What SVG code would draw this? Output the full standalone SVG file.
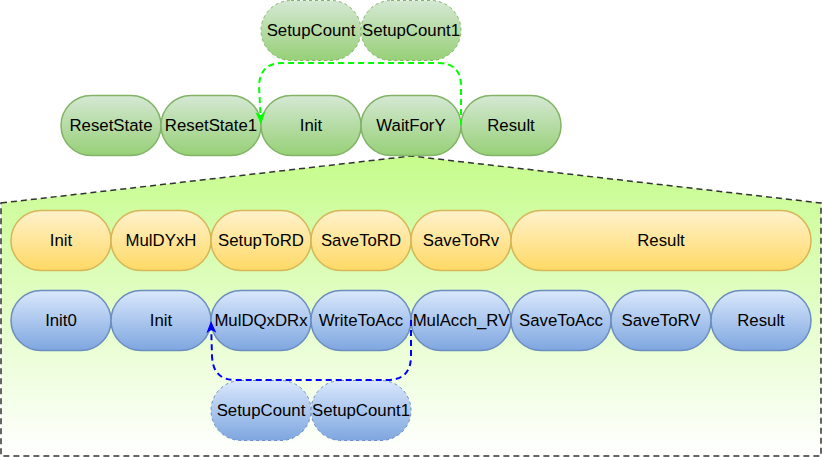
<svg xmlns="http://www.w3.org/2000/svg" width="822" height="457" viewBox="0 0 822 457">
<defs>
<linearGradient id="gBg" x1="0" y1="0" x2="0" y2="1"><stop offset="0" stop-color="#c6fc8c"/><stop offset="1" stop-color="#ffffff"/></linearGradient>
<linearGradient id="gGreen" x1="0" y1="0" x2="0" y2="1"><stop offset="0" stop-color="#d5e8d4"/><stop offset="1" stop-color="#97d077"/></linearGradient>
<linearGradient id="gOrange" x1="0" y1="0" x2="0" y2="1"><stop offset="0" stop-color="#fff2cc"/><stop offset="1" stop-color="#ffd966"/></linearGradient>
<linearGradient id="gBlue" x1="0" y1="0" x2="0" y2="1"><stop offset="0" stop-color="#dae8fc"/><stop offset="1" stop-color="#7ea6e0"/></linearGradient>
<marker id="arrG" viewBox="0 0 12 10" refX="12" refY="5" markerWidth="12" markerHeight="10" markerUnits="userSpaceOnUse" orient="auto" overflow="visible"><path d="M0,0 L12,5 L0,10 L3,5 Z" fill="#00ff00"/></marker>
<marker id="arrB" viewBox="0 0 12 10" refX="12" refY="5" markerWidth="12" markerHeight="10" markerUnits="userSpaceOnUse" orient="auto" overflow="visible"><path d="M0,0 L12,5 L0,10 L3,5 Z" fill="#0000ff"/></marker>
<style>
text{font-family:"Liberation Sans",Arial,sans-serif;font-size:16.8px;fill:#000;text-anchor:middle}
.g{fill:url(#gGreen);stroke:#82b366;stroke-width:1.5}
.o{fill:url(#gOrange);stroke:#d6b656;stroke-width:1.5}
.b{fill:url(#gBlue);stroke:#6c8ebf;stroke-width:1.5}
.d{stroke-dasharray:3 3;stroke-width:1}
.edge{fill:none;stroke-width:2;stroke-dasharray:6 4}
</style>
</defs>
<g id="container"><polygon points="1,203 411,156 821,203 821,456 1,456" fill="url(#gBg)" stroke="#333333" stroke-width="1.5" stroke-dasharray="6 4"/></g>

<g id="top-SetupCount"><rect class="g d" x="261" y="0.5" width="100" height="60" rx="30"/><text x="311" y="36">SetupCount</text></g>
<g id="top-SetupCount1"><rect class="g d" x="361" y="0.5" width="100" height="60" rx="30"/><text x="411" y="36">SetupCount1</text></g>

<g id="g-ResetState"><rect class="g" x="61" y="95.5" width="100" height="60" rx="30"/><text x="111" y="131">ResetState</text></g>
<g id="g-ResetState1"><rect class="g" x="161" y="95.5" width="100" height="60" rx="30"/><text x="211" y="131">ResetState1</text></g>
<g id="g-Init"><rect class="g" x="261" y="95.5" width="100" height="60" rx="30"/><text x="311" y="131">Init</text></g>
<g id="g-WaitForY"><rect class="g" x="361" y="95.5" width="100" height="60" rx="30"/><text x="411" y="131">WaitForY</text></g>
<g id="g-Result"><rect class="g" x="461" y="95.5" width="100" height="60" rx="30"/><text x="511" y="131">Result</text></g>

<g id="o-Init"><rect class="o" x="11" y="210.5" width="100" height="60" rx="30"/><text x="61" y="246">Init</text></g>
<g id="o-MulDYxH"><rect class="o" x="111" y="210.5" width="100" height="60" rx="30"/><text x="161" y="246">MulDYxH</text></g>
<g id="o-SetupToRD"><rect class="o" x="211" y="210.5" width="100" height="60" rx="30"/><text x="261" y="246">SetupToRD</text></g>
<g id="o-SaveToRD"><rect class="o" x="311" y="210.5" width="100" height="60" rx="30"/><text x="361" y="246">SaveToRD</text></g>
<g id="o-SaveToRv"><rect class="o" x="411" y="210.5" width="100" height="60" rx="30"/><text x="461" y="246">SaveToRv</text></g>
<g id="o-Result"><rect class="o" x="511" y="210.5" width="300" height="60" rx="30"/><text x="661" y="246">Result</text></g>

<g id="b-Init0"><rect class="b" x="11" y="290.5" width="100" height="60" rx="30"/><text x="61" y="326">Init0</text></g>
<g id="b-Init"><rect class="b" x="111" y="290.5" width="100" height="60" rx="30"/><text x="161" y="326">Init</text></g>
<g id="b-MulDQxDRx"><rect class="b" x="211" y="290.5" width="100" height="60" rx="30"/><text x="261" y="326">MulDQxDRx</text></g>
<g id="b-WriteToAcc"><rect class="b" x="311" y="290.5" width="100" height="60" rx="30"/><text x="361" y="326">WriteToAcc</text></g>
<g id="b-MulAcch_RV"><rect class="b" x="411" y="290.5" width="100" height="60" rx="30"/><text x="461" y="326">MulAcch_RV</text></g>
<g id="b-SaveToAcc"><rect class="b" x="511" y="290.5" width="100" height="60" rx="30"/><text x="561" y="326">SaveToAcc</text></g>
<g id="b-SaveToRV"><rect class="b" x="611" y="290.5" width="100" height="60" rx="30"/><text x="661" y="326">SaveToRV</text></g>
<g id="b-Result"><rect class="b" x="711" y="290.5" width="100" height="60" rx="30"/><text x="761" y="326">Result</text></g>

<g id="b-SetupCount"><rect class="b d" x="211" y="380.5" width="100" height="60" rx="30"/><text x="261" y="416">SetupCount</text></g>
<g id="b-SetupCount1"><rect class="b d" x="311" y="380.5" width="100" height="60" rx="30"/><text x="361" y="416">SetupCount1</text></g>

<g id="connectors">
<path class="edge" stroke="#00ff00" d="M461,125 L461,86 Q461,63 438,63 L282,63 Q260,63 259,86 L261,124" marker-end="url(#arrG)"/>
<path class="edge" stroke="#0000ff" d="M411,320 L411,356 Q411,380 387,380 L235,380 Q213,380 212,356 L211,321" marker-end="url(#arrB)"/>
</g>
</svg>
